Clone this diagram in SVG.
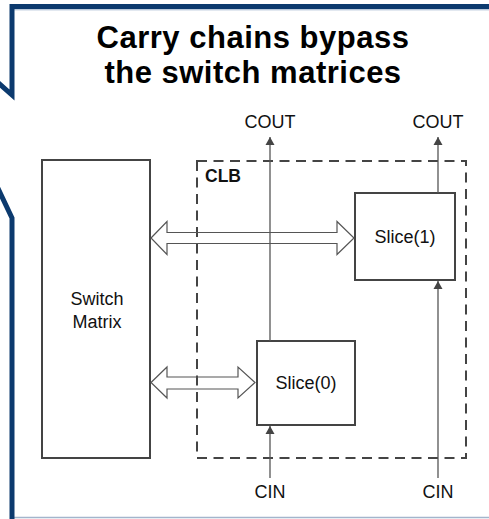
<svg xmlns="http://www.w3.org/2000/svg" width="489" height="519" viewBox="0 0 489 519">
<style>
.box{fill:#fff;stroke:#444;stroke-width:2}
.lbl{font-family:"Liberation Sans",Arial,sans-serif;font-size:18px;fill:#111;text-anchor:middle}
.title{font-family:"Liberation Sans",Arial,sans-serif;font-size:31px;font-weight:bold;fill:#000;text-anchor:middle;letter-spacing:0.5px}
.wire{stroke:#555;stroke-width:1.3;fill:none}
.barrow{fill:none;stroke:#555;stroke-width:1.2;stroke-linejoin:miter}
</style>
<defs>
<marker id="ah" viewBox="0 0 8 12" refX="8" refY="6" markerWidth="8" markerHeight="12" markerUnits="userSpaceOnUse" orient="auto">
<path d="M0,1.5 L8,6 L0,10.5 Z" fill="#444"/>
</marker>
</defs>
<rect x="0" y="0" width="489" height="519" fill="#fff"/>
<g id="callout">
<line x1="12" y1="517.5" x2="489" y2="517.5" stroke="#a3b5cc" stroke-width="1.5"/>
<line x1="14" y1="9.8" x2="489" y2="9.8" stroke="#9db2cc" stroke-width="1"/>
<polyline points="489,6.5 12,6.5 12,95 -14,72" fill="none" stroke="#0c3a6e" stroke-width="5" stroke-linejoin="miter"/>
<polyline points="-6,180 12,218 12,522" fill="none" stroke="#0c3a6e" stroke-width="5" stroke-linejoin="miter"/>
</g>
<g id="title">
<text class="title" x="253" y="48">Carry chains bypass</text>
<text class="title" x="253" y="83">the switch matrices</text>
</g>
<g id="clb">
<rect x="197" y="161" width="269" height="297" fill="none" stroke="#444" stroke-width="2" stroke-dasharray="10,6.5"/>
<text x="205" y="182" font-family="'Liberation Sans',Arial,sans-serif" font-size="17.5" font-weight="bold" fill="#111">CLB</text>
</g>
<g id="switch-matrix">
<rect class="box" x="42" y="160" width="108" height="298"/>
<text class="lbl" x="97" y="305">Switch</text>
<text class="lbl" x="97" y="328">Matrix</text>
</g>
<g id="slice0">
<rect class="box" x="257" y="341" width="98" height="84"/>
<text class="lbl" x="306" y="389">Slice(0)</text>
</g>
<g id="slice1">
<rect class="box" x="355" y="193" width="100" height="87"/>
<text class="lbl" x="405" y="243">Slice(1)</text>
</g>
<g id="labels">
<text class="lbl" x="270" y="128">COUT</text>
<text class="lbl" x="438" y="128">COUT</text>
<text class="lbl" x="270" y="498">CIN</text>
<text class="lbl" x="438" y="498">CIN</text>
</g>
<g id="connectors">
<line class="wire" x1="270" y1="341" x2="270" y2="137" marker-end="url(#ah)"/>
<line class="wire" x1="438" y1="193" x2="438" y2="137" marker-end="url(#ah)"/>
<line class="wire" x1="270" y1="478" x2="270" y2="426" marker-end="url(#ah)"/>
<line class="wire" x1="438" y1="478" x2="438" y2="281" marker-end="url(#ah)"/>
<polygon class="barrow" points="151,238 167,221.5 167,232.5 337,232.5 337,221.5 354,238 337,254.5 337,243.5 167,243.5 167,254.5"/>
<polygon class="barrow" points="151,382.5 167,367 167,377 238,377 238,367 255,382.5 238,398 238,389 167,389 167,398"/>
</g>
</svg>
